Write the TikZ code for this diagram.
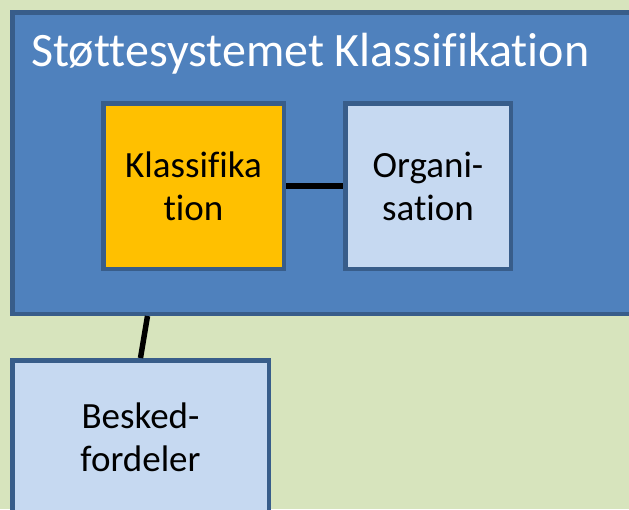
\documentclass[tikz,border=0pt]{standalone}
\usepackage{fontspec}
\setmainfont{Carlito}[Ligatures={NoCommon}]
\usetikzlibrary{calc}
\definecolor{bg}{HTML}{D7E4BD}
\definecolor{bigfill}{HTML}{4F81BD}
\definecolor{edge}{HTML}{385D8A}
\definecolor{gold}{HTML}{FFC000}
\definecolor{pale}{HTML}{C6D9F1}
\begin{document}
\begin{tikzpicture}[x=1pt,y=-1pt,
  box/.style={draw=edge, line width=4.5pt, rectangle, inner sep=0pt, align=center,
    font=\fontsize{37}{43}\selectfont},
  link/.style={line width=5.5pt, black}]
\useasboundingbox (0,0) rectangle (629,509);
\clip (0,0) rectangle (629,509);
\fill[bg] (0,0) rectangle (629,509);
\node[box, fill=bigfill, minimum width=625.5pt, minimum height=301.5pt] (big) at (325,163) {};
\node[anchor=base west, inner sep=0pt, text=white, font=\fontsize{48}{56}\selectfont] (title) at (31,66) {Støttesystemet Klassifikation};
\node[box, fill=gold, minimum width=180.5pt, minimum height=165.5pt] (klass) at (193.5,186) {Klassifika\\tion};
\node[box, fill=pale, minimum width=165.5pt, minimum height=165.5pt] (org) at (428,186) {Organi-\\sation};
\node[box, fill=pale, minimum width=256.5pt, minimum height=153.5pt] (besked) at (140.5,437) {Besked-\\fordeler};
\coordinate (btop) at ($(besked.north)+(7,0)$);
\draw[link] (klass.east) -- (org.west);
\draw[link] (btop |- big.south) -- (besked.north);
\end{tikzpicture}
\end{document}
